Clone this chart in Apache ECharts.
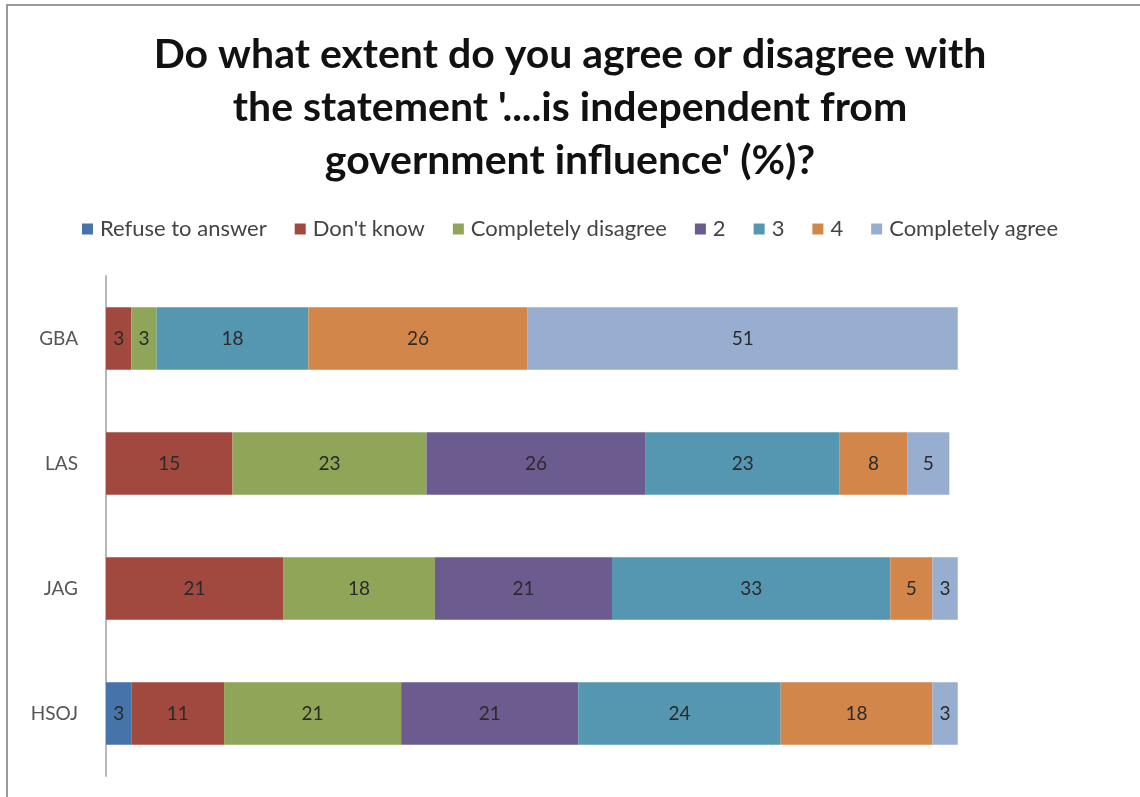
<!DOCTYPE html>
<html>
<head>
<meta charset="utf-8">
<script src="https://cdn.jsdelivr.net/npm/echarts@6/dist/echarts.min.js"></script>
<style>
  html, body { margin: 0; padding: 0; background: #fff; }
  #frame { position: absolute; left: 6px; top: 4px; width: 1200px; height: 900px;
           border-left: 2px solid #9a9a9a; border-top: 2px solid #9a9a9a; }
  #chart { position: absolute; left: 0; top: 0; width: 1140px; height: 797px; }
</style>
</head>
<body>
<div id="frame"></div>
<div id="chart"></div>
<script>
// Survey groups, listed top to bottom
const categories = ['GBA', 'LAS', 'JAG', 'HSOJ'];

// Answer options in stacking order
const seriesNames = ['Refuse to answer', "Don't know", 'Completely disagree', '2', '3', '4', 'Completely agree'];

// Percentages per answer option, one value per group (GBA, LAS, JAG, HSOJ)
const refuseToAnswer      = [0, 0, 0, 3];
const dontKnow            = [3, 15, 21, 11];
const completelyDisagree  = [3, 23, 18, 21];
const two                 = [0, 26, 21, 21];
const three               = [18, 23, 33, 24];
const four                = [26, 8, 5, 18];
const completelyAgree     = [51, 5, 3, 3];

const seriesValues = [refuseToAnswer, dontKnow, completelyDisagree, two, three, four, completelyAgree];
const colors = ['#4673aa', '#a1493f', '#8fa558', '#6b5b8e', '#5597b0', '#d3864a', '#98aed0'];

const font = 'Lato, "Open Sans", sans-serif';
const chart = echarts.init(document.getElementById('chart'));

chart.setOption({
  animation: false,
  color: colors,
  title: {
    text: "Do what extent do you agree or disagree with\nthe statement '....is independent from\ngovernment influence' (%)?",
    left: 'center',
    top: 23,
    textStyle: { fontFamily: font, fontSize: 41, fontWeight: 'bold', color: '#111', lineHeight: 53 }
  },
  legend: {
    top: 213,
    left: 'center',
    itemWidth: 11,
    itemHeight: 11,
    itemGap: 28,
    icon: 'rect',
    textStyle: { fontFamily: font, fontSize: 22, color: '#444', padding: [0, 0, 0, 2] },
    data: seriesNames
  },
  grid: { left: 106, top: 276, width: 1012, height: 500 },
  xAxis: {
    type: 'value',
    min: 0,
    max: 120,
    show: false
  },
  yAxis: {
    type: 'category',
    inverse: true,
    data: categories,
    axisLine: { lineStyle: { color: '#b8b8b8', width: 2 } },
    axisTick: { show: false },
    axisLabel: { fontFamily: font, fontSize: 19, color: '#555', margin: 28 }
  },
  series: seriesNames.map((name, i) => ({
    name,
    type: 'bar',
    stack: 'total',
    barWidth: '50%',
    data: seriesValues[i],
    label: {
      show: true,
      position: 'inside',
      fontFamily: font,
      fontSize: 19,
      color: '#2a2a2a',
      formatter: p => (p.value > 0 ? p.value : '')
    }
  }))
});
</script>
</body>
</html>
